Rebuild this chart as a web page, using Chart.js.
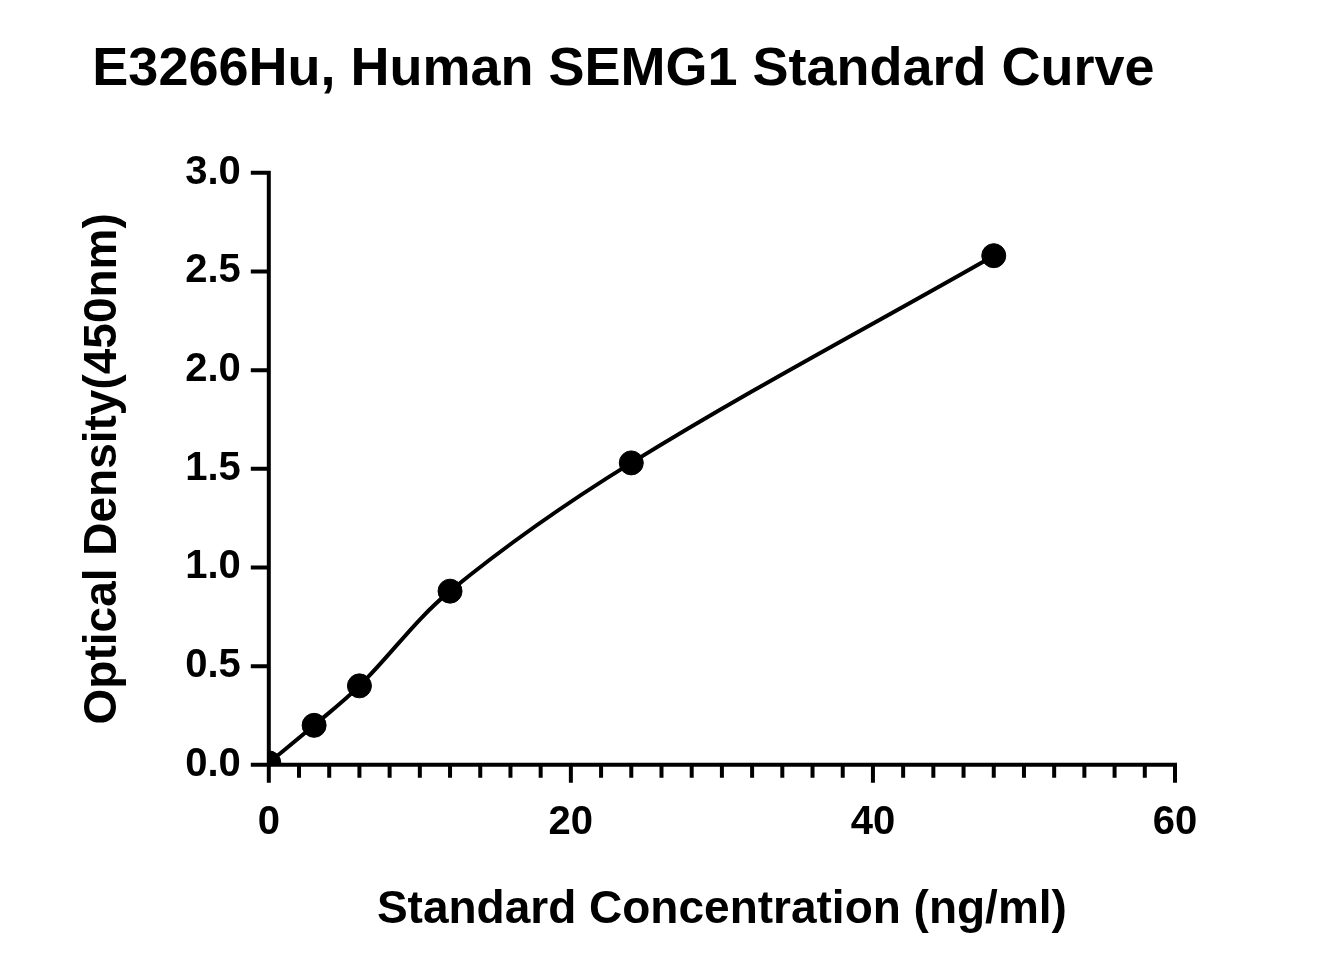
<!DOCTYPE html>
<html><head><meta charset="utf-8">
<script src="https://cdn.jsdelivr.net/npm/chart.js@4"></script>
<style>html,body{margin:0;background:#fff}#wrap{width:1338px;height:975px}</style>
</head><body><div id="wrap"><canvas id="c"></canvas></div>
<script>
const concentrations = [0, 3, 6, 12, 24, 48];
const densities = [0.01, 0.20, 0.40, 0.88, 1.53, 2.58];
const xTicks = [0, 20, 40, 60];
const yTicks = [0.0, 0.5, 1.0, 1.5, 2.0, 2.5, 3.0];

const pts = concentrations.map((x, i) => ({ x: x, y: densities[i] }));
const font = 'Liberation Sans, Arial, sans-serif';

// minor/major ticks drawn on the axes
const tickPlugin = {
  id: 'ticks',
  afterDraw(chart) {
    const { ctx, scales: { x, y } } = chart;
    ctx.save();
    ctx.strokeStyle = '#000';
    ctx.lineWidth = 4;
    ctx.beginPath();
    for (let v = 0; v <= 60; v += 2) {
      const px = x.getPixelForValue(v);
      const len = v % 20 === 0 ? 18 : 13;
      ctx.moveTo(px, y.bottom);
      ctx.lineTo(px, y.bottom + len);
    }
    yTicks.forEach(v => {
      const py = y.getPixelForValue(v);
      ctx.moveTo(x.left, py);
      ctx.lineTo(x.left - 18, py);
    });
    ctx.moveTo(x.left, y.top - 2);
    ctx.lineTo(x.left, y.bottom);
    ctx.lineTo(x.right + 2, y.bottom);
    ctx.stroke();
    ctx.restore();
  }
};

new Chart(document.getElementById('c'), {
  type: 'scatter',
  data: {
    datasets: [
      { data: pts, showLine: true, tension: 0.35, borderColor: '#000', borderWidth: 4,
        pointRadius: 0, order: 2 },
      { data: pts, pointRadius: 12, pointHoverRadius: 12, backgroundColor: '#000', borderColor: '#000', order: 1 }
    ]
  },
  options: {
    responsive: true, maintainAspectRatio: false, animation: false,
    layout: { padding: { top: 18, left: 72, right: 163, bottom: 33 } },
    plugins: {
      legend: { display: false }, tooltip: { enabled: false },
      title: { display: true, text: 'E3266Hu, Human SEMG1 Standard Curve', color: '#000',
        font: { family: font, size: 54, weight: 'bold' }, padding: { top: 20, bottom: 70 } }
    },
    scales: {
      x: {
        type: 'linear', min: 0, max: 60,
        afterBuildTicks: s => { s.ticks = xTicks.map(v => ({ value: v })); },
        grid: { display: false, drawTicks: false }, border: { display: false },
        ticks: { color: '#000', font: { family: font, size: 40, weight: 'bold' }, padding: 34 },
        title: { display: true, text: 'Standard Concentration (ng/ml)', color: '#000',
          font: { family: font, size: 46, weight: 'bold' }, padding: { top: 2 } }
      },
      y: {
        min: 0, max: 3,
        afterBuildTicks: s => { s.ticks = yTicks.map(v => ({ value: v })); },
        grid: { display: false, drawTicks: false }, border: { display: false },
        ticks: { color: '#000', font: { family: font, size: 40, weight: 'bold' }, padding: 28,
          callback: v => v.toFixed(1) },
        title: { display: true, text: 'Optical Density(450nm)', color: '#000',
          font: { family: font, size: 46, weight: 'bold' }, padding: { bottom: 26 } }
      }
    }
  },
  plugins: [tickPlugin]
});
</script></body></html>
